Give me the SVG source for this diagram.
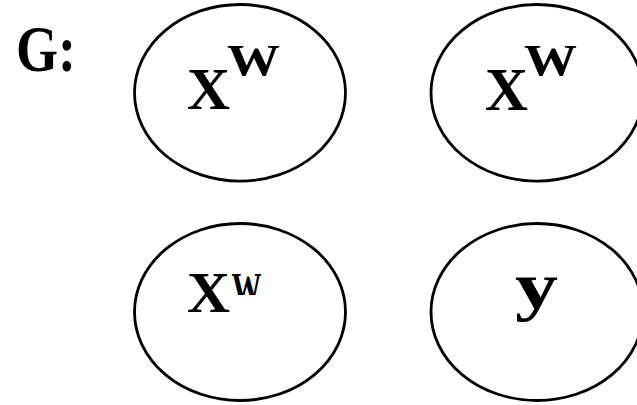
<svg xmlns="http://www.w3.org/2000/svg" width="637" height="405" viewBox="0 0 637 405">
<defs>
<style>
.node ellipse{fill:none;stroke:#000;stroke-width:2.8}
.t{font-family:"Liberation Serif","Times New Roman",serif;font-weight:bold;fill:#000}
</style>
<clipPath id="cw"><rect x="220" y="265" width="60" height="30"/></clipPath>
</defs>
<rect width="637" height="405" fill="#fff"/>
<text class="t" x="16" y="70.5" font-size="66" textLength="60" lengthAdjust="spacingAndGlyphs">G:</text>
<g id="connectors"></g>
<g id="node1" class="node">
<ellipse cx="240" cy="92.8" rx="105.5" ry="88.3"/>
<text class="t" x="187" y="108.5" font-size="60" textLength="43" lengthAdjust="spacingAndGlyphs">X</text>
<text class="t" x="227" y="75" font-size="45" textLength="53" lengthAdjust="spacingAndGlyphs">W</text>
</g>
<g id="node2" class="node">
<ellipse cx="537" cy="92.8" rx="106" ry="88.3"/>
<text class="t" x="485" y="110" font-size="62" textLength="43" lengthAdjust="spacingAndGlyphs">X</text>
<text class="t" x="524" y="75" font-size="45" textLength="53" lengthAdjust="spacingAndGlyphs">W</text>
</g>
<g id="node3" class="node">
<ellipse cx="240" cy="312" rx="105.5" ry="88.5"/>
<text class="t" x="187" y="311.7" font-size="58" textLength="43" lengthAdjust="spacingAndGlyphs">X</text>
<text class="t" x="231.5" y="303" font-size="45" textLength="30" lengthAdjust="spacingAndGlyphs" clip-path="url(#cw)">W</text>
</g>
<g id="node4" class="node">
<ellipse cx="537" cy="312" rx="106" ry="88.5"/>
<text class="t" x="515" y="308" font-size="65" textLength="43" lengthAdjust="spacingAndGlyphs">y</text>
</g>
</svg>
